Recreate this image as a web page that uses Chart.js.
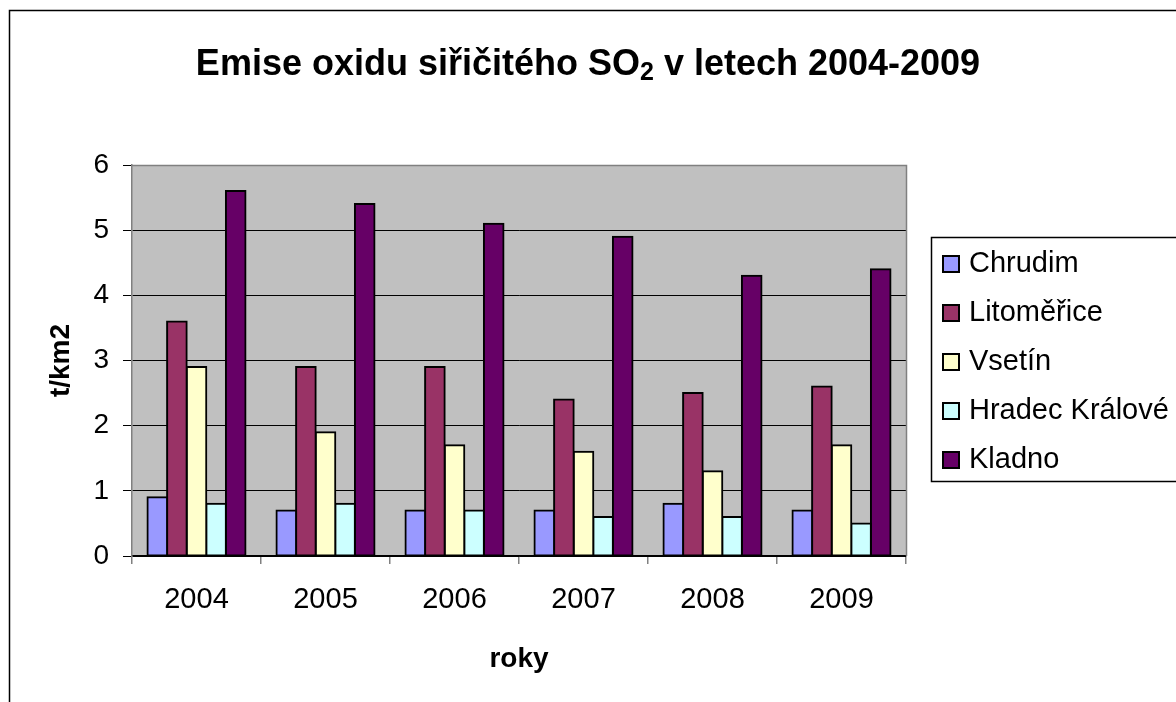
<!DOCTYPE html>
<html>
<head>
<meta charset="utf-8">
<script src="https://cdn.jsdelivr.net/npm/chart.js@4.4.1/dist/chart.umd.min.js"></script>
<style>
  html, body { margin: 0; padding: 0; background: #fff; }
  #wrap { width: 1176px; height: 702px; position: relative; }
</style>
</head>
<body>
<div id="wrap"><canvas id="myChart"></canvas></div>
<script>
// data
const years = ['2004', '2005', '2006', '2007', '2008', '2009'];
const chrudim = [0.9, 0.7, 0.7, 0.7, 0.8, 0.7];
const litomerice = [3.6, 2.9, 2.9, 2.4, 2.5, 2.6];
const vsetin = [2.9, 1.9, 1.7, 1.6, 1.3, 1.7];
const hradecKralove = [0.8, 0.8, 0.7, 0.6, 0.6, 0.5];
const kladno = [5.6, 5.4, 5.1, 4.9, 4.3, 4.4];
const yTicks = [0, 1, 2, 3, 4, 5, 6];

const FONT = '"Liberation Sans", Arial, sans-serif';

function makeSet(label, values, color) {
  return {
    label: label,
    data: values,
    backgroundColor: color,
    borderColor: '#000',
    borderWidth: 2,
    borderSkipped: false,
    inflateAmount: 1,
    barPercentage: 1,
    categoryPercentage: 0.76
  };
}

// background, outer frame, plot area, title and legend (Excel look)
const excelLook = {
  id: 'excelLook',
  beforeDraw(chart) {
    const ctx = chart.ctx;
    const a = chart.chartArea;
    ctx.save();
    ctx.fillStyle = '#fff';
    ctx.fillRect(0, 0, chart.width, chart.height);
    ctx.strokeStyle = '#000';
    ctx.lineWidth = 1.5;
    ctx.strokeRect(9.5, 10.5, 1300, 1000);
    ctx.fillStyle = '#C0C0C0';
    ctx.fillRect(a.left, a.top, a.right - a.left, a.bottom - a.top);
    ctx.restore();
  },
  afterDatasetsDraw(chart) {
    const ctx = chart.ctx;
    const a = chart.chartArea;
    ctx.save();
    ctx.strokeStyle = '#808080';
    ctx.lineWidth = 1.5;
    ctx.beginPath();
    ctx.moveTo(a.left, a.top + 0.5);
    ctx.lineTo(a.right + 0.5, a.top + 0.5);
    ctx.lineTo(a.right + 0.5, a.bottom);
    ctx.stroke();
    ctx.restore();
  },
  afterDraw(chart) {
    const ctx = chart.ctx;
    ctx.save();
    // title with subscript
    const big = 'bold 36px ' + FONT;
    const small = 'bold 25px ' + FONT;
    const p1 = 'Emise oxidu siřičitého SO';
    const p2 = '2';
    const p3 = ' v letech 2004-2009';
    ctx.font = big;
    const w1 = ctx.measureText(p1).width;
    const w3 = ctx.measureText(p3).width;
    ctx.font = small;
    const w2 = ctx.measureText(p2).width;
    let x = 588 - (w1 + w2 + w3) / 2;
    const base = 75;
    ctx.fillStyle = '#000';
    ctx.textBaseline = 'alphabetic';
    ctx.textAlign = 'left';
    ctx.font = big;
    ctx.fillText(p1, x, base);
    x += w1;
    ctx.font = small;
    ctx.fillText(p2, x, base + 5);
    x += w2;
    ctx.font = big;
    ctx.fillText(p3, x, base);

    // legend
    ctx.lineWidth = 1.5;
    ctx.strokeStyle = '#000';
    ctx.fillStyle = '#fff';
    ctx.fillRect(931, 237, 300, 244);
    ctx.strokeRect(931.5, 237.5, 300, 244);
    ctx.font = '29px ' + FONT;
    ctx.textBaseline = 'middle';
    chart.data.datasets.forEach((ds, i) => {
      const cy = 263 + i * 49;
      ctx.fillStyle = ds.backgroundColor;
      ctx.fillRect(943, cy - 7, 16, 16);
      ctx.lineWidth = 2;
      ctx.strokeRect(943, cy - 7, 16, 16);
      ctx.fillStyle = '#000';
      ctx.fillText(ds.label, 969, cy + 1);
    });
    ctx.restore();
  }
};

const ctx = document.getElementById('myChart').getContext('2d');

new Chart(ctx, {
  type: 'bar',
  data: {
    labels: years,
    datasets: [
      makeSet('Chrudim', chrudim, '#9999FF'),
      makeSet('Litoměřice', litomerice, '#993366'),
      makeSet('Vsetín', vsetin, '#FFFFCC'),
      makeSet('Hradec Králové', hradecKralove, '#CCFFFF'),
      makeSet('Kladno', kladno, '#660066')
    ]
  },
  options: {
    responsive: true,
    maintainAspectRatio: false,
    animation: false,
    layout: {
      padding: { top: 165, right: 270, left: 20, bottom: 0 }
    },
    plugins: {
      legend: { display: false },
      title: { display: false },
      tooltip: { enabled: false }
    },
    scales: {
      x: {
        afterFit: s => { s.height = 146; },
        grid: {
          display: true,
          offset: true,
          drawOnChartArea: false,
          tickLength: 8,
          color: '#808080',
          lineWidth: 1.5
        },
        border: { display: true, color: '#000', width: 1.5 },
        ticks: {
          color: '#000',
          padding: 19,
          font: { family: FONT, size: 29 }
        },
        title: {
          display: true,
          text: 'roky',
          color: '#000',
          font: { family: FONT, size: 28, weight: 'bold' },
          padding: { top: 0, bottom: 26 }
        }
      },
      y: {
        min: 0,
        max: 6,
        afterFit: s => { s.width = 112; },
        afterBuildTicks: s => { s.ticks = yTicks.map(v => ({ value: v })); },
        grid: {
          color: '#000',
          lineWidth: 1,
          tickLength: 9,
          drawTicks: true
        },
        border: { display: true, color: '#808080', width: 1.5 },
        ticks: {
          color: '#000',
          padding: 14,
          font: { family: FONT, size: 28 }
        },
        title: {
          display: true,
          text: 't/km2',
          color: '#000',
          font: { family: FONT, size: 28, weight: 'bold' },
          padding: { top: 24, bottom: 0 }
        }
      }
    }
  },
  plugins: [excelLook]
});
</script>
</body>
</html>
